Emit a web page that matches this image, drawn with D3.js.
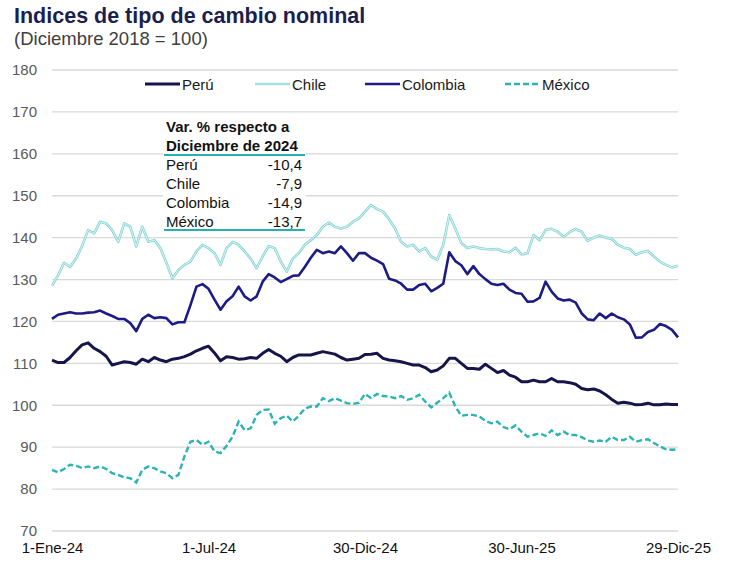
<!DOCTYPE html>
<html>
<head>
<meta charset="utf-8">
<script src="https://cdn.jsdelivr.net/npm/d3@7"></script>
<style>
  body { margin: 0; background: #fff; }
  text { font-family: "Liberation Sans", Arial, sans-serif; }
</style>
</head>
<body>
<svg id="chart"></svg>
<script>
// weekly observations, 1-Ene-24 .. 29-Dic-25 (105 weeks)
var startDate = new Date(2024, 0, 1);
var nWeeks = 105;

var peru = [110.8,110.2,110.2,111.4,113,114.4,114.9,113.6,112.8,111.7,109.6,110,110.4,110.2,109.8,111,110.4,111.4,110.8,110.4,
  111,111.2,111.6,112.2,113,113.6,114.1,112.5,110.6,111.6,111.4,111,111.1,111.4,111.2,112.4,113.3,112.4,111.7,110.4,
  111.4,112,112,112,112.4,112.8,112.5,112.2,111.4,110.8,111,111.2,112.1,112.2,112.4,111.2,110.8,110.6,110.4,110,
  109.6,109.6,109,108,108.4,109.4,111.2,111.2,110,108.8,108.8,108.6,109.8,108.8,107.8,108.3,107.2,106.7,105.6,105.6,
  106,105.6,105.6,106.4,105.6,105.6,105.4,105,104,103.7,103.9,103.4,102.5,101.4,100.5,100.7,100.5,100.1,100.2,100.5,
  100.1,100.1,100.3,100.2,100.2];

var chile = [128.5,131,134,133,135,138,141.8,141,143.8,143.4,141.8,139,143.4,142.6,137.9,142.6,139,139.4,137.5,134,
  130.3,132.3,133.5,134.3,136.7,138.3,137.5,136.3,133.5,137.5,139,138.3,136.7,135,132.7,135.5,138,137.5,134.3,131.9,
  135,136.3,138.3,139.4,140.6,142.6,143.6,142.6,142.2,142.6,143.8,144.6,146.2,147.8,146.8,146.2,144.4,142.2,139,137.9,
  138.3,136.7,137.5,135.5,134.7,138.3,145.4,142.2,138.7,137.5,137.9,137.5,137.3,137.2,137.3,136.7,136.5,137.6,136,136.3,
  140.6,139.4,141.8,142.1,141.4,140.2,141.3,142.1,141.4,139.2,140,140.5,140,139.7,138.3,137.6,137.3,135.9,136.5,136.8,
  135.5,134.3,133.5,132.9,133.3];

var colombia = [120.6,121.6,121.9,122.2,121.9,121.9,122.1,122.2,122.6,121.9,121.3,120.6,120.6,119.6,117.7,120.6,121.6,120.8,121,120.8,
  119.3,119.8,119.8,123.9,128.3,128.9,127.8,125.2,122.8,124.8,126,128.3,126,125,126,129.5,131.3,130.5,129.4,130.1,
  130.9,131,133,135.2,137.1,136.3,136.7,136.3,137.9,136.3,134.5,136.3,136.3,135.2,134.5,133.7,130.2,129.8,129,127.6,
  127.6,128.7,129,127.2,128,129,136.5,134.4,133.4,131.3,133.2,131.3,130.1,129,128.7,129,127.6,126.8,126.6,124.7,
  124.8,125.6,129.5,127.1,125.5,125,125.2,124.5,121.9,120.5,120.3,121.9,120.8,121.9,121,120.5,119.3,116.1,116.2,117.5,
  118,119.4,118.9,118,116.2];

var mexico = [84.6,84,84.8,85.8,85.6,85,85.4,85,85.4,84.8,83.8,83.4,82.8,82.6,81.6,84.6,85.4,85,84.2,83.8,
  82.6,83.4,87.8,91.3,91.7,90.6,91.3,89,88.6,90.3,92.5,96.1,94.1,94.5,97.7,98.9,99,95.6,96.9,97.5,
  96.1,97.5,99.2,99.7,99.7,101.7,101,101.7,101.1,100.5,100.3,100.6,102.7,101.7,102.7,102.2,102.1,101.7,102.2,101.3,
  101.7,102.5,100.9,99.5,100.6,101.7,103,99.7,97.5,97.7,97.7,97.3,96.3,95.7,96.1,94.8,94.3,95.2,93.7,92.5,
  92.9,93.3,92.7,94,92.9,93.7,92.9,92.9,92.4,91.6,91.3,91.6,91.3,92.5,91.7,91.7,92.5,91.3,91.7,91.9,
  91,90.2,89.5,89.4,89.5];

var seriesNames = ["Perú", "Chile", "Colombia", "México"];

var tickDates = [new Date(2024, 0, 1), new Date(2024, 6, 1), new Date(2024, 11, 30),
                 new Date(2025, 5, 30), new Date(2025, 11, 29)];
var tickLabels = ["1-Ene-24", "1-Jul-24", "30-Dic-24", "30-Jun-25", "29-Dic-25"];
var yTicks = [70, 80, 90, 100, 110, 120, 130, 140, 150, 160, 170, 180];

var tableNames = ["Perú", "Chile", "Colombia", "México"];
var tableValues = ["-10,4", "-7,9", "-14,9", "-13,7"];

// set the dimensions and margins of the graph
var W = 738, H = 571;
var margin = {top: 70, right: 60, bottom: 40, left: 52},
    width = 678 - margin.left,
    height = 531 - margin.top;

var dates = d3.range(nWeeks).map(function(i) { return d3.timeDay.offset(startDate, 7 * i); });

// set the ranges
var x = d3.scaleTime().domain([tickDates[0], tickDates[4]]).range([0, width]);
var y = d3.scaleLinear().domain([70, 180]).range([height, 0]);

var svg = d3.select("#chart")
    .attr("width", W)
    .attr("height", H);

// title
svg.append("text")
    .attr("x", 14).attr("y", 23)
    .attr("font-size", 21.5).attr("font-weight", "bold")
    .attr("fill", "#1b1f4f")
    .text("Indices de tipo de cambio nominal");
svg.append("text")
    .attr("x", 14).attr("y", 45)
    .attr("font-size", 18.5)
    .attr("fill", "#404040")
    .text("(Diciembre 2018 = 100)");

var g = svg.append("g")
    .attr("transform", "translate(" + margin.left + "," + margin.top + ")");

// gridlines
g.selectAll(".grid")
    .data(yTicks)
  .enter().append("line")
    .attr("x1", 0).attr("x2", width)
    .attr("y1", function(d) { return y(d); })
    .attr("y2", function(d) { return y(d); })
    .attr("stroke", "#d9d9d9")
    .attr("stroke-width", 1.3);

// Y axis labels
var yAxis = g.append("g")
    .call(d3.axisLeft(y).tickValues(yTicks).tickSize(0).tickPadding(15));
yAxis.select(".domain").remove();
yAxis.selectAll("text")
    .attr("font-size", 15)
    .attr("font-family", "Liberation Sans, Arial, sans-serif")
    .attr("fill", "#595959");

// X axis labels
var xAxis = g.append("g")
    .attr("transform", "translate(0," + height + ")")
    .call(d3.axisBottom(x).tickValues(tickDates).tickSize(0).tickPadding(11)
      .tickFormat(function(d, i) { return tickLabels[i]; }));
xAxis.select(".domain").remove();
xAxis.selectAll("text")
    .attr("font-size", 15)
    .attr("font-family", "Liberation Sans, Arial, sans-serif")
    .attr("fill", "#111");

var line = d3.line()
    .x(function(d, i) { return x(dates[i]); })
    .y(function(d) { return y(d); });

// Chile (hollow light line)
g.append("path").datum(chile)
    .attr("fill", "none").attr("stroke", "#86d4d6").attr("stroke-width", 2.6)
    .attr("stroke-linejoin", "round").attr("d", line);
g.append("path").datum(chile)
    .attr("fill", "none").attr("stroke", "#e6f7f7").attr("stroke-width", 0.9)
    .attr("stroke-linejoin", "round").attr("d", line);

// Colombia
g.append("path").datum(colombia)
    .attr("fill", "none").attr("stroke", "#1c1c84").attr("stroke-width", 2.6)
    .attr("stroke-linejoin", "round").attr("d", line);

// Perú
g.append("path").datum(peru)
    .attr("fill", "none").attr("stroke", "#15154a").attr("stroke-width", 3)
    .attr("stroke-linejoin", "round").attr("d", line);

// México
g.append("path").datum(mexico)
    .attr("fill", "none").attr("stroke", "#2bb3b5").attr("stroke-width", 2.4)
    .attr("stroke-dasharray", "6,3").attr("d", line);

// legend
var legendX = [145, 255, 365, 505];
var legendStyle = [
  {c: "#15154a", w: 3, dash: null},
  {c: "#a6e0e1", w: 2.5, dash: null},
  {c: "#1c1c84", w: 2.5, dash: null},
  {c: "#2bb3b5", w: 2.4, dash: "6,3"}
];
var legend = svg.selectAll(".legend")
    .data(seriesNames)
  .enter().append("g")
    .attr("transform", function(d, i) { return "translate(" + legendX[i] + ",84)"; });
legend.append("line")
    .attr("x1", 0).attr("x2", 35)
    .attr("stroke", function(d, i) { return legendStyle[i].c; })
    .attr("stroke-width", function(d, i) { return legendStyle[i].w; })
    .attr("stroke-dasharray", function(d, i) { return legendStyle[i].dash; });
legend.append("text")
    .attr("x", 37).attr("y", 5.5)
    .attr("font-size", 15).attr("fill", "#1a1a1a")
    .text(function(d) { return d; });

// table with variations
var table = svg.append("g");
table.append("rect")
    .attr("x", 163).attr("y", 116).attr("width", 143).attr("height", 116)
    .attr("fill", "#fff");
table.append("text")
    .attr("x", 166).attr("y", 132)
    .attr("font-size", 15).attr("font-weight", "bold").attr("fill", "#111")
    .text("Var. % respecto a");
table.append("text")
    .attr("x", 166).attr("y", 151)
    .attr("font-size", 15).attr("font-weight", "bold").attr("fill", "#111")
    .text("Diciembre de 2024");
table.selectAll(".hr")
    .data([155, 230])
  .enter().append("line")
    .attr("x1", 164).attr("x2", 305)
    .attr("y1", function(d) { return d; }).attr("y2", function(d) { return d; })
    .attr("stroke", "#2aaeb0").attr("stroke-width", 2);
var rows = table.selectAll(".row")
    .data(tableNames)
  .enter().append("g")
    .attr("transform", function(d, i) { return "translate(0," + (170 + i * 19) + ")"; });
rows.append("text")
    .attr("x", 166)
    .attr("font-size", 15).attr("fill", "#111")
    .text(function(d) { return d; });
rows.append("text")
    .attr("x", 302).attr("text-anchor", "end")
    .attr("font-size", 15).attr("fill", "#111")
    .text(function(d, i) { return tableValues[i]; });
</script>
</body>
</html>
